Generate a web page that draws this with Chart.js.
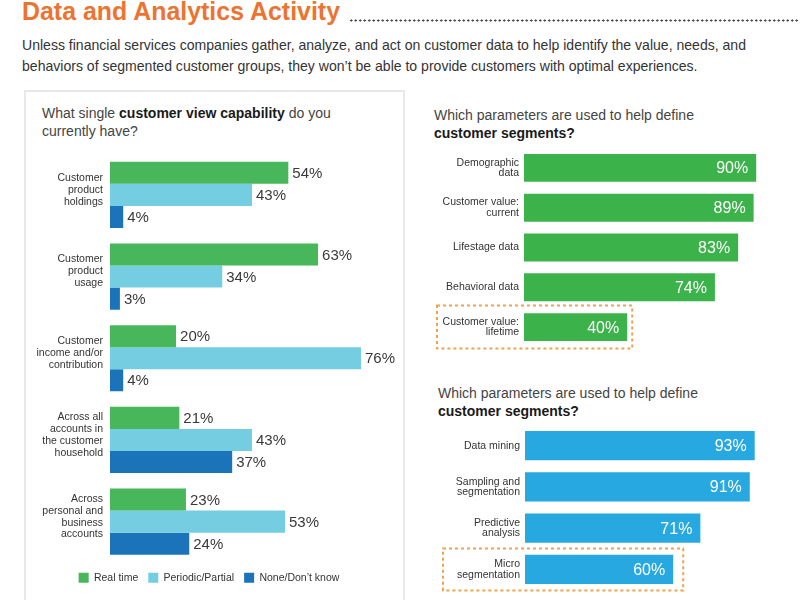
<!DOCTYPE html>
<html>
<head>
<meta charset="utf-8">
<script src="https://cdn.jsdelivr.net/npm/chart.js@4.4.1/dist/chart.umd.min.js"></script>
<style>
  body { margin: 0; width: 800px; height: 600px; overflow: hidden; background: #fff; position: relative;
         font-family: "Liberation Sans", Arial, sans-serif; }
  .fit { display: inline-block; white-space: nowrap; transform-origin: 0 50%; }
  .title { position: absolute; left: 22px; top: -2px; color: #EC7430; font: bold 26px/26px "Liberation Sans", sans-serif; }
  .dots { position: absolute; left: 349px; width: 450px; top: 19px; height: 3px;
          background: radial-gradient(circle, #444 0.9px, transparent 1.3px) 0 0 / 4.5px 3px repeat-x; }
  .intro { position: absolute; left: 22px; top: 34px; color: #333; font: 15px/21px "Liberation Sans", sans-serif; }
  .intro .fit { display: block; width: max-content; }
  .panel { position: absolute; left: 24px; top: 90px; width: 377px; height: 530px; border: 2px solid #e8e8e8; }
  .q { position: absolute; font-size: 14px; line-height: 18px; color: #444; white-space: nowrap; }
  .q b { color: #1a1a1a; }
  .box { position: absolute; }
</style>
</head>
<body>
<div class="title"><span class="fit" data-w="318">Data and Analytics Activity</span></div>
<div class="dots"></div>
<div class="intro">
  <span class="fit" data-w="724" id="intro1">Unless financial services companies gather, analyze, and act on customer data to help identify the value, needs, and</span>
  <span class="fit" data-same="intro1">behaviors of segmented customer groups, they won’t be able to provide customers with optimal experiences.</span>
</div>
<div class="panel"></div>

<div class="q" style="left:42px; top:104px;">What single <b>customer view capability</b> do you<br>currently have?</div>
<div class="q" style="left:434px; top:106px;">Which parameters are used to help define<br><b>customer segments?</b></div>
<div class="q" style="left:438px; top:384px;">Which parameters are used to help define<br><b>customer segments?</b></div>

<div class="box" style="left:24px; top:150px; width:380px; height:443px;"><canvas id="view-chart"></canvas></div>
<div class="box" style="left:420px; top:140px; width:380px; height:215px;"><canvas id="segment-chart"></canvas></div>
<div class="box" style="left:420px; top:415px; width:380px; height:185px;"><canvas id="method-chart"></canvas></div>

<script>
// data //

const viewLabels = [
  ['Customer', 'product', 'holdings'],
  ['Customer', 'product', 'usage'],
  ['Customer', 'income and/or', 'contribution'],
  ['Across all', 'accounts in', 'the customer', 'household'],
  ['Across', 'personal and', 'business', 'accounts']
];
const seriesNames = ['Real time', 'Periodic/Partial', 'None/Don’t know'];
const realTime = [54, 63, 20, 21, 23];
const periodic = [43, 34, 76, 43, 53];
const noneKnow = [4, 3, 4, 37, 24];

const segmentLabels = [['Demographic', 'data'], ['Customer value:', 'current'], 'Lifestage data', 'Behavioral data', ['Customer value:', 'lifetime']];
const segmentValues = [90, 89, 83, 74, 40];

const methodLabels = ['Data mining', ['Sampling and', 'segmentation'], ['Predictive', 'analysis'], ['Micro', 'segmentation']];
const methodValues = [93, 91, 71, 60];

// squeeze headline text to the condensed widths of the original //

const scales = {};
document.querySelectorAll('.fit').forEach(el => {
  let s = 1;
  if (el.dataset.w) {
    s = el.dataset.w / el.getBoundingClientRect().width;
    if (el.id) scales[el.id] = s;
  } else if (el.dataset.same) {
    s = scales[el.dataset.same];
  }
  el.style.transform = 'scaleX(' + s + ')';
});

// plugins //

const valueLabels = {
  id: 'valueLabels',
  afterDatasetsDraw(chart, args, opts) {
    const ctx = chart.ctx;
    ctx.save();
    ctx.font = opts.font;
    ctx.fillStyle = opts.color;
    ctx.textBaseline = 'middle';
    ctx.textAlign = opts.inside ? 'right' : 'left';
    chart.data.datasets.forEach((ds, i) => {
      chart.getDatasetMeta(i).data.forEach((bar, j) => {
        const x = opts.inside ? bar.x - opts.offset : bar.x + opts.offset;
        ctx.fillText(ds.data[j] + '%', x, bar.y + 1);
      });
    });
    ctx.restore();
  }
};

const highlightBox = {
  id: 'highlightBox',
  afterDraw(chart, args, opts) {
    if (opts.index == null) return;
    const bar = chart.getDatasetMeta(0).data[opts.index];
    const ctx = chart.ctx;
    ctx.save();
    ctx.strokeStyle = '#F2A24E';
    ctx.lineWidth = 2;
    ctx.setLineDash([3, 3]);
    ctx.strokeRect(opts.left, bar.y - opts.padY, bar.x + opts.padX - opts.left, opts.padY * 2);
    ctx.restore();
  }
};

function yAxis(width, padding, lineHeight, labelOffset) {
  return {
    afterFit: (scale) => {
      scale.width = width;
      // multi-line labels should not push the plot area around
      scale.paddingTop = 0;
      scale.paddingBottom = 0;
    },
    grid: { display: false, drawTicks: false },
    border: { display: false },
    ticks: {
      padding: padding,
      labelOffset: labelOffset || 0,
      color: '#333',
      font: { family: 'Liberation Sans', size: 10.5, lineHeight: lineHeight }
    }
  };
}

// single customer view chart //

new Chart(document.querySelector('#view-chart'), {
  type: 'bar',
  data: {
    labels: viewLabels,
    datasets: [
      { label: seriesNames[0], data: realTime, backgroundColor: '#48B65A' },
      { label: seriesNames[1], data: periodic, backgroundColor: '#74CDE1' },
      { label: seriesNames[2], data: noneKnow, backgroundColor: '#1B74BA' }
    ]
  },
  options: {
    indexAxis: 'y',
    responsive: true,
    maintainAspectRatio: false,
    animation: false,
    layout: { padding: { top: 4, right: 10 } },
    datasets: { bar: { barPercentage: 1, categoryPercentage: 0.81 } },
    scales: {
      x: { display: false, min: 0, max: 86 },
      y: yAxis(86, 7, 1.14, -5)
    },
    plugins: {
      legend: {
        position: 'bottom',
        labels: {
          boxWidth: 10,
          boxHeight: 10,
          padding: 10,
          color: '#333',
          font: { family: 'Liberation Sans', size: 10.5 }
        }
      },
      tooltip: { enabled: false },
      valueLabels: { font: '15px "Liberation Sans"', color: '#3a3a3a', offset: 4 }
    }
  },
  plugins: [valueLabels]
});

// segment parameters chart //

new Chart(document.querySelector('#segment-chart'), {
  type: 'bar',
  data: {
    labels: segmentLabels,
    datasets: [{ data: segmentValues, backgroundColor: '#3CB24A' }]
  },
  options: {
    indexAxis: 'y',
    responsive: true,
    maintainAspectRatio: false,
    animation: false,
    layout: { padding: { top: 8, bottom: 8, right: 18 } },
    datasets: { bar: { barPercentage: 1, categoryPercentage: 0.70 } },
    scales: {
      x: { display: false, min: 0, max: 100 },
      y: yAxis(104, 5, 1.0)
    },
    plugins: {
      legend: { display: false },
      tooltip: { enabled: false },
      valueLabels: { font: '16px "Liberation Sans"', color: '#fff', offset: 8, inside: true },
      highlightBox: { index: 4, left: 17, padY: 21.5, padX: 5 }
    }
  },
  plugins: [valueLabels, highlightBox]
});

// segmentation methods chart //

new Chart(document.querySelector('#method-chart'), {
  type: 'bar',
  data: {
    labels: methodLabels,
    datasets: [{ data: methodValues, backgroundColor: '#27A8E0' }]
  },
  options: {
    indexAxis: 'y',
    responsive: true,
    maintainAspectRatio: false,
    animation: false,
    layout: { padding: { top: 10, bottom: 10, right: 28 } },
    datasets: { bar: { barPercentage: 1, categoryPercentage: 0.715 } },
    scales: {
      x: { display: false, min: 0, max: 100 },
      y: yAxis(105, 5, 1.0)
    },
    plugins: {
      legend: { display: false },
      tooltip: { enabled: false },
      valueLabels: { font: '16px "Liberation Sans"', color: '#fff', offset: 8, inside: true },
      highlightBox: { index: 3, left: 23, padY: 21, padX: 10 }
    }
  },
  plugins: [valueLabels, highlightBox]
});
</script>
</body>
</html>
